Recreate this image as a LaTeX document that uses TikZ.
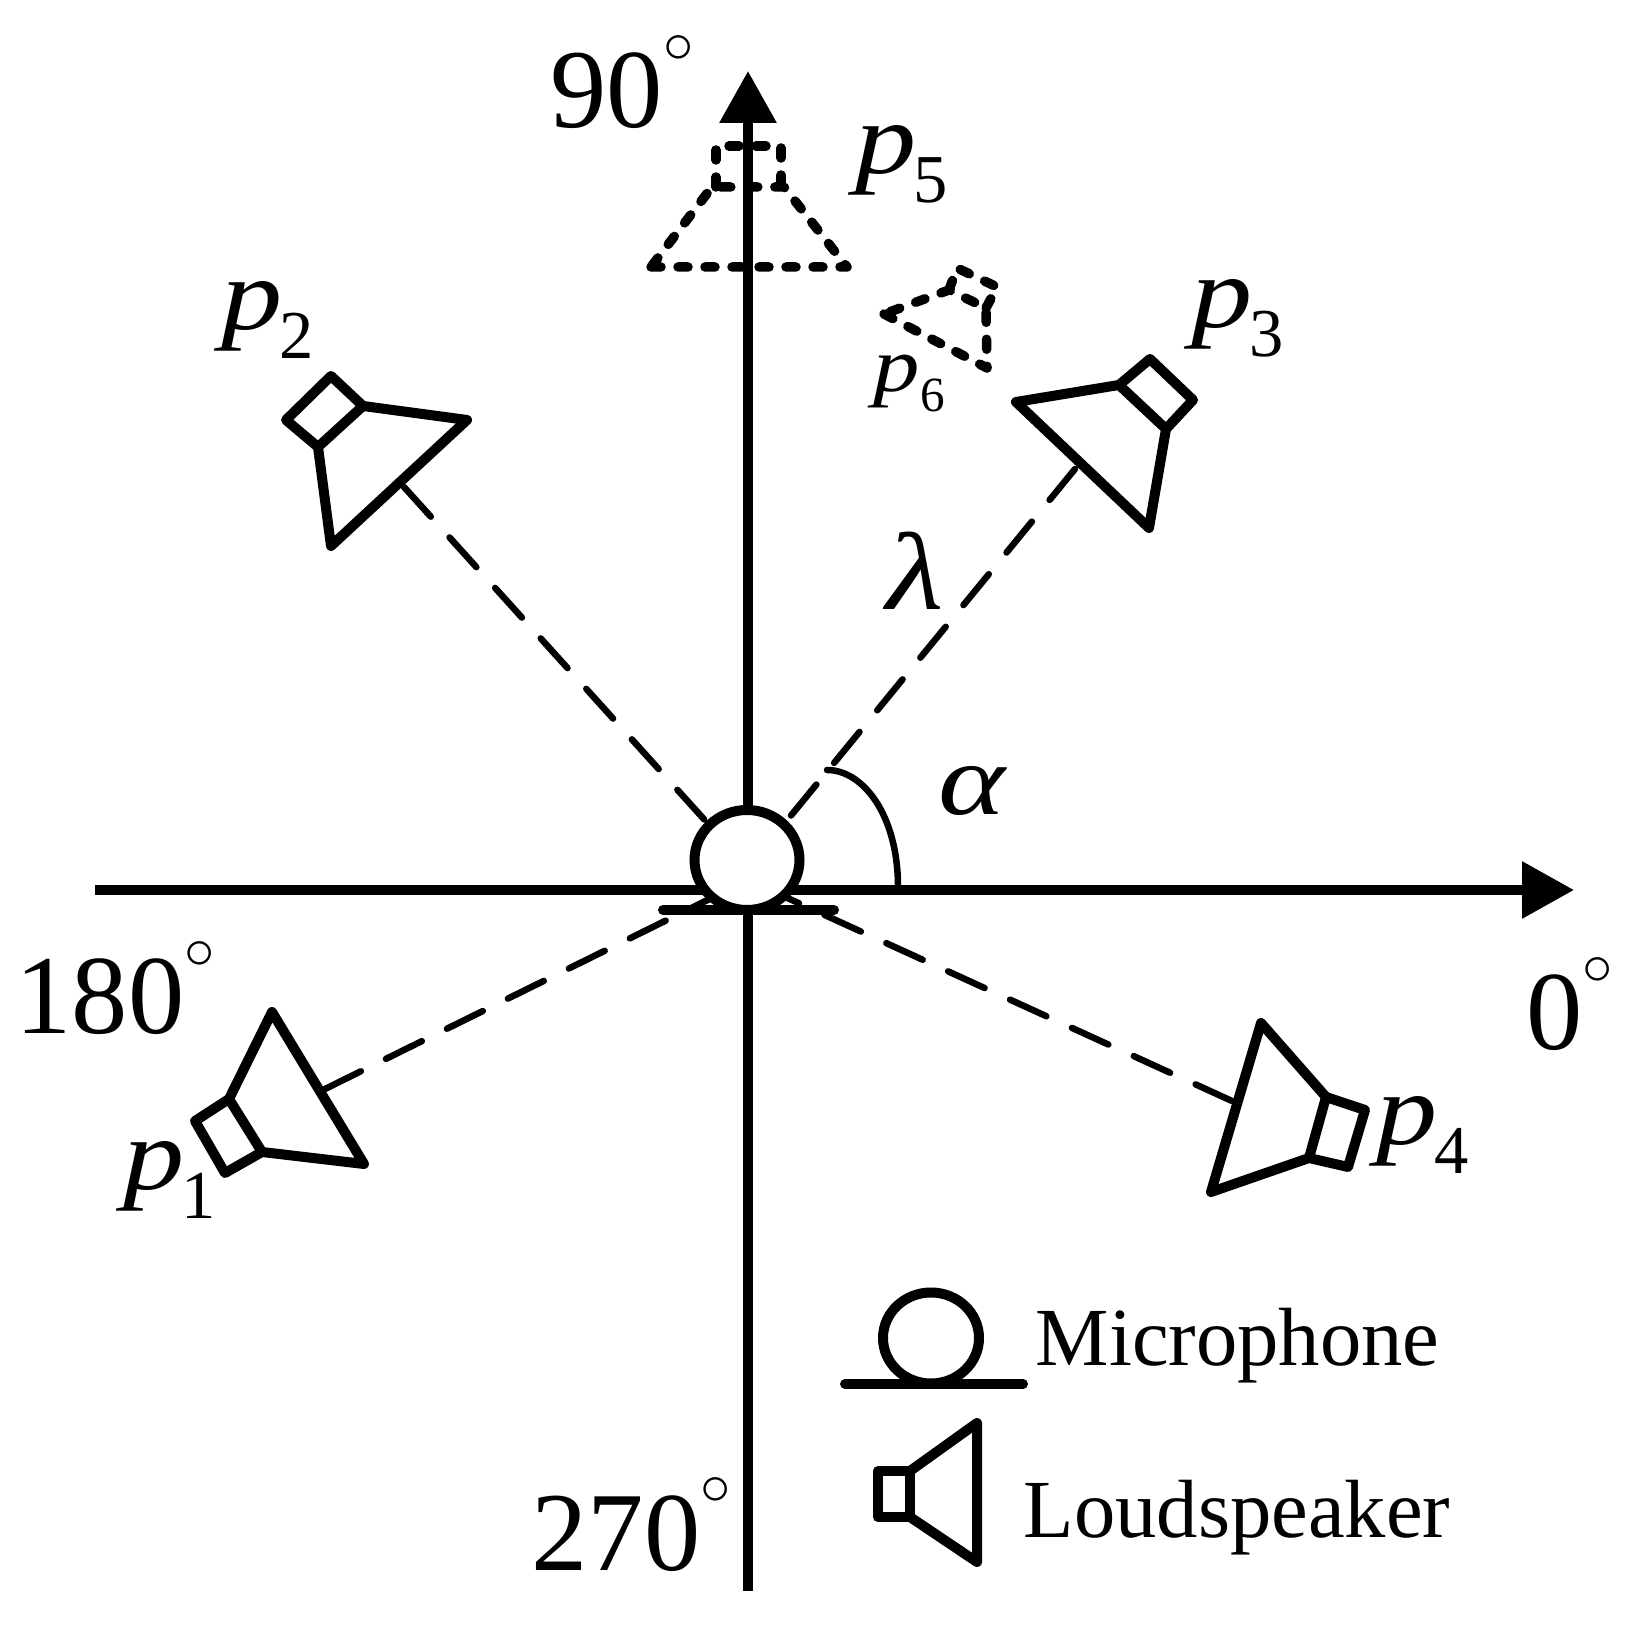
\documentclass[tikz,border=0pt]{standalone}
\usepackage{fontspec}
\setmainfont{Liberation Serif}
\usetikzlibrary{arrows.meta,shapes.geometric}
\newcommand{\angdeg}{\raisebox{0.58em}{\fontsize{17}{17}\selectfont$\circ$}}
\newcommand{\widep}{\scalebox{1.2}[1]{\textit{p}}}
\newcommand{\psub}[1]{\widep\hspace{-0.03cm}\raisebox{-0.29cm}{\fontsize{19.5}{20}\selectfont #1}}
\tikzset{
  axisline/.style={line width=0.095cm,-{Triangle[length=0.52cm,width=0.55cm]}},
  speaker/.style={line width=0.10cm,line join=round,line cap=round},
  ghost/.style={line width=0.095cm,line cap=round,line join=round,dash pattern=on 0.10cm off 0.17cm},
  leader/.style={line width=0.065cm,line cap=round,dash pattern=on 0.40cm off 0.28cm},
  tag/.style={anchor=base west,inner sep=0pt,font=\fontsize{32}{32}\selectfont},
  ptag/.style={anchor=base west,inner sep=0pt,font=\fontsize{29}{29}\selectfont},
  legendtag/.style={anchor=base west,inner sep=0pt,font=\fontsize{23.5}{24}\selectfont},
}
\begin{document}
\begin{tikzpicture}
\useasboundingbox (-7.48,-7.51) rectangle (8.84,8.90);
\coordinate (east) at (8.26,0);
\coordinate (west) at (-6.53,0);
\coordinate (north) at (0,8.19);
\coordinate (south) at (0,-7.01);
\coordinate (focusup) at (0,0.22);
\coordinate (focusdown) at (0,0.10);
\coordinate (front1) at (-4.23,-1.99);
\coordinate (front2) at (-3.44,4.03);
\coordinate (front3) at (3.27,4.21);
\coordinate (front4) at (4.84,-2.11);
\draw[axisline] (west) -- (east);
\draw[axisline] (south) -- (north);
\draw[leader] (front1) -- (focusdown);
\draw[leader] (front2) -- (focusup);
\draw[leader] (front3) -- (focusup);
\draw[leader] (front4) -- (focusdown);
\node[ellipse,draw,fill=white,line width=0.10cm,inner sep=0pt,minimum width=1.05cm,minimum height=1.0cm] (mic) at (-0.01,0.30) {};
\draw[line width=0.10cm,line cap=round] (-0.85,-0.20) -- (0.86,-0.20);
\draw[line width=0.065cm,line cap=round] (0.79,1.20) .. controls (1.15,1.20) and (1.50,0.75) .. (1.50,0.03);
\draw[speaker] (-4.76,-1.22) -- (-3.84,-2.74) -- (-4.86,-2.62) -- (-5.19,-2.09) -- cycle;
\draw[speaker] (-5.19,-2.09) -- (-5.53,-2.31) -- (-5.23,-2.83) -- (-4.86,-2.62);
\draw[speaker] (-2.81,4.70) -- (-4.17,3.44) -- (-4.30,4.43) -- (-3.85,4.84) -- cycle;
\draw[speaker] (-4.30,4.43) -- (-4.62,4.70) -- (-4.17,5.14) -- (-3.85,4.84);
\draw[speaker] (2.68,4.88) -- (4.01,3.62) -- (4.18,4.61) -- (3.71,5.05) -- cycle;
\draw[speaker] (3.71,5.05) -- (4.02,5.31) -- (4.45,4.90) -- (4.18,4.61);
\draw[speaker] (5.13,-1.33) -- (4.63,-3.02) -- (5.61,-2.68) -- (5.78,-2.07) -- cycle;
\draw[speaker] (5.78,-2.07) -- (6.17,-2.20) -- (6.00,-2.77) -- (5.61,-2.68);
\draw[ghost] (-0.97,6.23) -- (0.99,6.23) -- (0.36,7.03) -- (-0.36,7.03) -- cycle;
\draw[ghost] (-0.32,7.03) -- (-0.32,7.44) -- (0.33,7.44) -- (0.33,7.03);
\draw[ghost] (1.36,5.76) -- (2.39,5.22) -- (2.38,5.82) -- (2.01,6.00) -- cycle;
\draw[ghost] (2.01,6.00) -- (2.09,6.22) -- (2.49,6.03) -- (2.38,5.82);
\node[tag] (north label) at (-1.98,7.62) {90\angdeg};
\node[tag] (west label) at (-7.33,-1.44) {180\angdeg};
\node[tag] (east label) at (7.78,-1.60) {0\angdeg};
\node[tag] (south label) at (-2.17,-6.80) {270\angdeg};
\node[ptag] (p1 label) at (-6.25,-3.00) {\psub{1}};
\node[ptag] (p2 label) at (-5.27,5.60) {\psub{2}};
\node[ptag] (p3 label) at (4.43,5.62) {\psub{3}};
\node[ptag] (p4 label) at (6.28,-2.55) {\psub{4}};
\node[ptag] (p5 label) at (1.07,7.16) {\psub{5}};
\node[anchor=base west,inner sep=0pt,font=\fontsize{22}{22}\selectfont] (p6 label) at (1.25,4.98) {\widep\raisebox{-0.2cm}{\fontsize{14}{14}\selectfont 6}};
\node[ptag] (lambda label) at (1.38,2.80) {\scalebox{1.3}[1.08]{\textit{λ}}};
\node[ptag] (alpha label) at (1.90,0.75) {\scalebox{1.25}[1]{\textit{α}}};
\node[ellipse,draw,line width=0.10cm,inner sep=0pt,minimum width=0.96cm,minimum height=0.91cm] (legend mic) at (1.83,-4.48) {};
\draw[line width=0.10cm,line cap=round] (0.97,-4.94) -- (2.75,-4.94);
\node[legendtag] (legend mic label) at (2.87,-4.75) {Microphone};
\draw[speaker] (1.30,-5.81) -- (1.62,-5.81) -- (1.62,-6.27) -- (1.30,-6.27) -- cycle;
\draw[speaker] (1.62,-5.81) -- (2.29,-5.33) -- (2.29,-6.72) -- (1.62,-6.27);
\node[legendtag] (legend speaker label) at (2.75,-6.47) {Loudspeaker};
\end{tikzpicture}
\end{document}
